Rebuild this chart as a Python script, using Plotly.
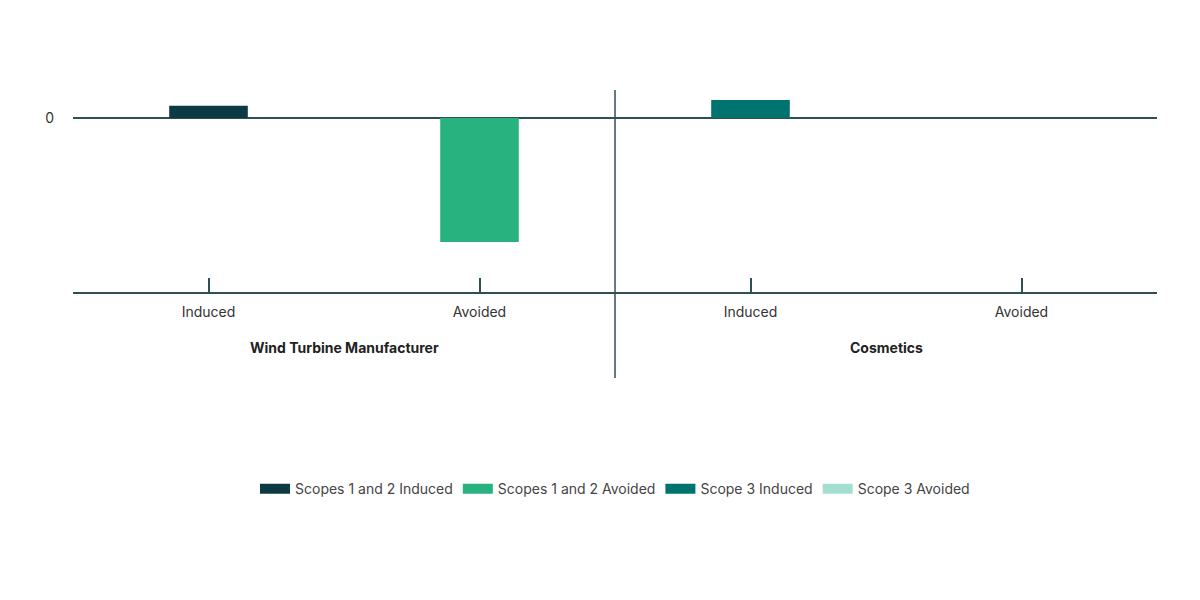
import plotly.graph_objects as go

categories = ["Induced", "Avoided", "Induced", "Avoided"]
groups = ["Wind Turbine Manufacturer", "Cosmetics"]
series_names = ["Scopes 1 and 2 Induced", "Scopes 1 and 2 Avoided", "Scope 3 Induced", "Scope 3 Avoided"]
series_values = [0.10, -1.0, 0.145, 0.0]
series_colors = ["#0b3a45", "#27b27f", "#00736e", "#a3ded0"]

fig = go.Figure()
for i, (n, v, c) in enumerate(zip(series_names, series_values, series_colors)):
    fig.add_trace(go.Bar(x=[i], y=[v], name=n, marker_color=c, width=0.29,
                         marker_line_width=0, showlegend=False))
    fig.add_trace(go.Scatter(x=[None], y=[None], mode="lines", name=n,
                             line=dict(color=c, width=12)))

fig.update_layout(
    width=1200, height=600, plot_bgcolor="white", paper_bgcolor="white",
    margin=dict(l=65, r=51, t=52, b=316),
    font=dict(family="Inter, Roboto, sans-serif", size=14, color="#333"),
    barmode="relative", showlegend=True,
    legend=dict(orientation="h", x=0.5, xanchor="center", y=-0.85, yanchor="middle",
                font=dict(size=14, color="#444"), traceorder="normal"),
    xaxis=dict(range=[-0.5, 3.5], tickmode="array", tickvals=[0, 1, 2, 3], ticktext=categories,
               ticks="inside", ticklen=14, tickcolor="#2f4f55", tickwidth=1.5,
               showline=True, linecolor="#2f4f55", linewidth=1.5, showgrid=False,
               zeroline=False, fixedrange=True, ticklabelstandoff=6),
    yaxis=dict(range=[-1.403, 0.468], tickmode="array", tickvals=[0], ticktext=["0"],
               showgrid=False, zeroline=True, zerolinecolor="#2f4f55", zerolinewidth=1.5,
               showline=False, ticks="", ticklabelstandoff=18),
)
fig.add_shape(type="line", xref="x", yref="paper", x0=1.5, x1=1.5, y0=-0.371, y1=0.871,
              line=dict(color="#2f4f55", width=1.5))
for gx, g in zip([0.5, 2.5], groups):
    fig.add_annotation(x=gx, xref="x", y=-0.285, yref="paper", text="<b>" + g + "</b>",
                       showarrow=False, font=dict(size=14, color="#222"))
fig.write_html("out.html")
